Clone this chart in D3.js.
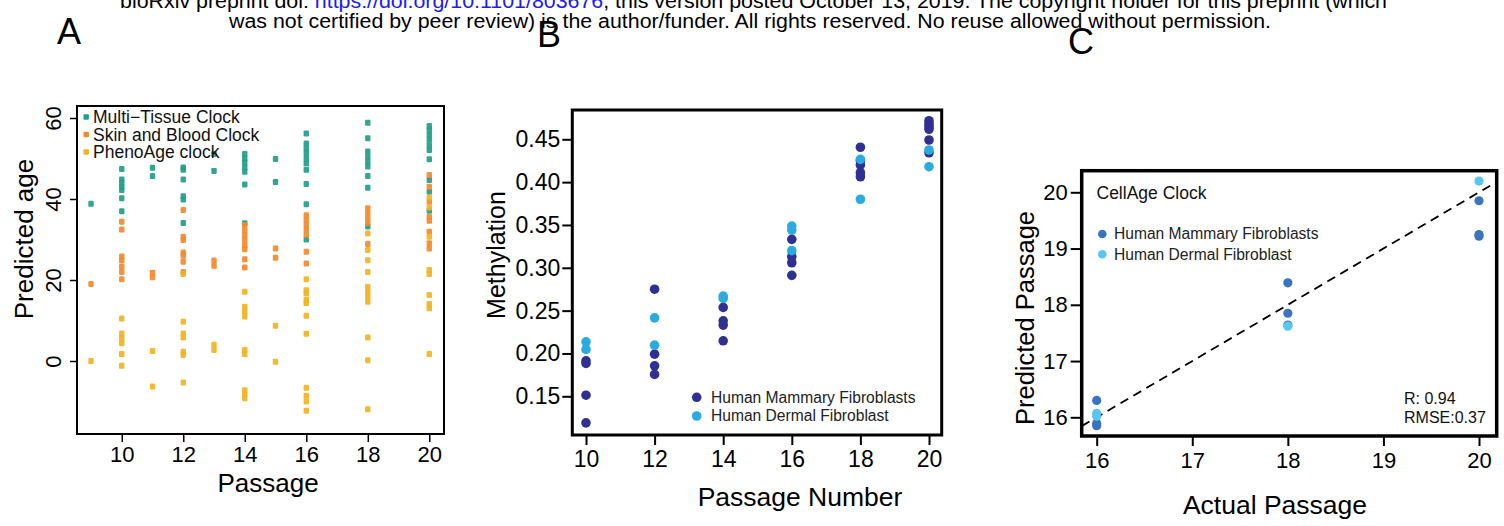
<!DOCTYPE html>
<html>
<head>
<meta charset="utf-8">
<script src="https://cdn.jsdelivr.net/npm/d3@7"></script>
<style>
  html, body { margin: 0; padding: 0; background: #fff; }
  svg { display: block; font-family: "Liberation Sans", Arial, Helvetica, sans-serif; }
</style>
</head>
<body>
<svg id="chart" width="1504" height="526"></svg>
<script>
// ---------------- DATA ----------------
// Panel A: predicted age by passage, per clock
const passagesA = [9, 10, 11, 12, 13, 14, 15, 16, 18, 20];
const multiTissue = [
  [38.8],
  [47.4, 44.8, 43.9, 43.0, 42.2, 40.2, 37.0],
  [47.7, 45.7],
  [47.8, 47.2, 44.8, 40.7, 39.9, 34.1],
  [51.1, 46.9],
  [51.1, 50.0, 49.0, 47.8, 46.7, 43.6, 34.0],
  [49.9, 44.2],
  [56.2, 53.7, 52.5, 51.3, 50.0, 48.8, 47.2, 43.7, 38.7, 30.0],
  [58.8, 55.0, 51.7, 50.4, 49.2, 48.0, 45.7, 42.8, 33.2],
  [58.0, 57.0, 55.8, 54.6, 53.3, 52.1, 49.8, 44.7, 41.8, 37.1]
];
const skinBlood = [
  [19.0],
  [34.4, 32.5, 25.8, 24.8, 23.3, 22.0, 20.2],
  [21.8, 20.7],
  [37.3, 30.7, 29.9, 26.8, 26.0, 24.5, 22.0],
  [24.8, 23.5],
  [33.6, 32.3, 31.1, 29.9, 28.6, 27.6, 25.1, 23.1],
  [27.8, 25.5],
  [36.0, 34.8, 33.6, 32.4, 31.2, 27.0, 24.1],
  [37.7, 36.5, 35.2, 34.1, 28.9],
  [45.9, 43.0, 39.3, 35.6, 34.6, 31.9, 29.1, 27.8]
];
const phenoAge = [
  [0.0],
  [10.5, 6.8, 5.6, 4.4, 1.7, -1.2],
  [2.5, -6.3],
  [21.5, 9.7, 6.8, 5.8, 2.3, 1.5, -5.3],
  [4.0, 2.7],
  [17.1, 13.4, 12.2, 11.0, 2.7, 1.7, -7.2, -8.2, -9.2],
  [8.7, -0.2],
  [20.2, 17.5, 16.7, 15.1, 14.3, 11.2, 6.7, -6.6, -8.6, -10.0, -12.3],
  [31.5, 27.4, 24.9, 22.0, 18.3, 17.1, 15.9, 14.6, 5.8, 0.2, -11.9],
  [40.4, 37.9, 30.7, 22.5, 21.5, 16.3, 14.1, 13.0, 1.7]
];
const clockNames = ["Multi\u2212Tissue Clock", "Skin and Blood Clock", "PhenoAge clock"];
const xTicksA = [10, 12, 14, 16, 18, 20];
const yTicksA = [0, 20, 40, 60];

// Panel B: methylation by passage number
const passagesB = [10, 12, 14, 16, 18, 20];
const methMammary = [
  [0.1914, 0.1884, 0.1513, 0.119],
  [0.275, 0.1992, 0.1856, 0.1755],
  [0.2538, 0.2381, 0.2331, 0.2148],
  [0.3332, 0.3129, 0.3059, 0.2912],
  [0.4407, 0.4200, 0.4110, 0.4063, 0.4250],
  [0.4717, 0.4679, 0.4647, 0.4617, 0.4492, 0.4343]
];
const methDermal = [
  [0.2136, 0.2047],
  [0.2416, 0.2097],
  [0.2670, 0.2643],
  [0.3487, 0.3440, 0.3200],
  [0.4266, 0.3800],
  [0.4375, 0.4180]
];
const cellNames = ["Human Mammary Fibroblasts", "Human Dermal Fibroblast"];
const yTicksB = [0.15, 0.20, 0.25, 0.30, 0.35, 0.40, 0.45];

// Panel C: CellAge clock, actual vs predicted passage
const actualMammary = [16, 16, 16, 18, 18, 18, 20, 20, 20];
const predMammary = [16.30, 15.89, 15.85, 18.39, 17.85, 17.64, 19.85, 19.25, 19.22];
const actualDermal = [16, 16, 18, 20];
const predDermal = [16.07, 16.02, 17.62, 20.20];
const cellNamesC = ["Human Mammary Fibroblasts", "Human Dermal Fibroblast"];
const ticksC = [16, 17, 18, 19, 20];
const statsC = ["R: 0.94", "RMSE:0.37"];

// ---------------- DRAW ----------------
const svg = d3.select("#chart");
const font = '"Liberation Sans", Arial, Helvetica, sans-serif';

// Header
const hdr = svg.append("g");
const t1 = hdr.append("text").attr("x", 120).attr("y", 8)
  .attr("font-size", 20).attr("fill", "#000")
  .attr("textLength", 1267).attr("lengthAdjust", "spacingAndGlyphs");
t1.append("tspan").text("bioRxiv preprint doi: ");
t1.append("tspan").attr("fill", "#1a1aff").text("https://doi.org/10.1101/803676");
t1.append("tspan").text(", this version posted October 13, 2019. The copyright holder for this preprint (which");
hdr.append("text").attr("x", 229).attr("y", 28)
  .attr("font-size", 20).attr("fill", "#000")
  .attr("textLength", 1042).attr("lengthAdjust", "spacingAndGlyphs")
  .text("was not certified by peer review) is the author/funder. All rights reserved. No reuse allowed without permission.");

// Panel letters
[["A", 57, 44], ["B", 537, 47], ["C", 1068, 54]].forEach(([l, x, y]) => {
  svg.append("text").attr("x", x).attr("y", y).attr("font-size", 36).attr("fill", "#000").text(l);
});

// ======== Panel A ========
{
  const L = 77, R = 444, T = 106, B = 434;
  const x = d3.scaleLinear().domain([9, 20]).range([91, 429.3]);
  const y = d3.scaleLinear().domain([0, 60]).range([361, 118]);
  const g = svg.append("g");
  const colors = ["#1fa08a", "#f5892a", "#f3b21f"];
  const series = [multiTissue, skinBlood, phenoAge];
  series.forEach((s, si) => {
    const pts = [];
    s.forEach((vals, i) => vals.forEach(v => pts.push([passagesA[i], v])));
    g.append("g").selectAll("rect").data(pts).join("rect")
      .attr("x", d => x(d[0]) - 2.7).attr("y", d => y(d[1]) - 3)
      .attr("width", 5.4).attr("height", 6).attr("rx", 1.2)
      .attr("fill", colors[si]).attr("fill-opacity", 0.92);
  });
  g.append("rect").attr("x", L).attr("y", T).attr("width", R - L).attr("height", B - T)
    .attr("fill", "none").attr("stroke", "#000").attr("stroke-width", 2);

  const xa = g.append("g").attr("transform", `translate(0,${B})`)
    .call(d3.axisBottom(x).tickValues(xTicksA).tickSize(8).tickPadding(4).tickFormat(d3.format("d")));
  xa.select(".domain").remove();
  xa.selectAll("line").attr("stroke", "#000").attr("stroke-width", 1.5);
  xa.selectAll("text").attr("font-size", 22).attr("font-family", font).attr("fill", "#000");

  const ya = g.append("g").attr("transform", `translate(${L},0)`)
    .call(d3.axisLeft(y).tickValues(yTicksA).tickSize(7).tickFormat(d3.format("d")));
  ya.select(".domain").remove();
  ya.selectAll("line").attr("stroke", "#000").attr("stroke-width", 1.5);
  ya.selectAll("text").attr("font-size", 22).attr("font-family", font).attr("fill", "#000")
    .attr("x", 0).attr("dy", 0).attr("text-anchor", "middle")
    .attr("transform", "translate(-16,0) rotate(-90)");

  g.append("text").attr("x", 268).attr("y", 492).attr("text-anchor", "middle")
    .attr("font-size", 26).attr("fill", "#000").text("Passage");
  g.append("text").attr("transform", "translate(33,239) rotate(-90)").attr("text-anchor", "middle")
    .attr("font-size", 26).attr("fill", "#000").text("Predicted age");

  // legend
  const lg = g.append("g");
  clockNames.forEach((n, i) => {
    const yy = 117 + i * 17.5;
    lg.append("rect").attr("x", 83.5).attr("y", yy - 2.7).attr("width", 5.4).attr("height", 5.4)
      .attr("rx", 1).attr("fill", colors[i]);
    lg.append("text").attr("x", 93).attr("y", yy + 6).attr("font-size", 17.5).attr("fill", "#111").text(n);
  });
}

// ======== Panel B ========
{
  const L = 572.3, R = 941.7, T = 110, B = 435;
  const x = d3.scaleLinear().domain([10, 20]).range([586, 929]);
  const y = d3.scaleLinear().domain([0.15, 0.45]).range([396.3, 139.3]);
  const g = svg.append("g");
  const cols = ["#2e3192", "#29abe2"];
  const groups = [methMammary, methDermal];
  groups.forEach((s, si) => {
    const pts = [];
    s.forEach((vals, i) => vals.forEach(v => pts.push([passagesB[i], v])));
    g.append("g").selectAll("circle").data(pts).join("circle")
      .attr("cx", d => x(d[0])).attr("cy", d => y(d[1])).attr("r", 4.8)
      .attr("fill", cols[si]);
  });
  g.append("rect").attr("x", L).attr("y", T).attr("width", R - L).attr("height", B - T)
    .attr("fill", "none").attr("stroke", "#000").attr("stroke-width", 3);

  const xa = g.append("g").attr("transform", `translate(0,${B})`)
    .call(d3.axisBottom(x).tickValues(passagesB).tickSize(10).tickPadding(6).tickFormat(d3.format("d")));
  xa.select(".domain").remove();
  xa.selectAll("line").attr("stroke", "#000").attr("stroke-width", 2);
  xa.selectAll("text").attr("font-size", 23).attr("font-family", font).attr("fill", "#000");

  const ya = g.append("g").attr("transform", `translate(${L},0)`)
    .call(d3.axisLeft(y).tickValues(yTicksB).tickSize(10).tickPadding(2).tickFormat(d3.format(".2f")));
  ya.select(".domain").remove();
  ya.selectAll("line").attr("stroke", "#000").attr("stroke-width", 2);
  ya.selectAll("text").attr("font-size", 23).attr("font-family", font).attr("fill", "#000");

  g.append("text").attr("x", 800).attr("y", 506).attr("text-anchor", "middle")
    .attr("font-size", 26.5).attr("fill", "#000").text("Passage Number");
  g.append("text").attr("transform", "translate(505,255) rotate(-90)").attr("text-anchor", "middle")
    .attr("font-size", 25).attr("fill", "#000").text("Methylation");

  cellNames.forEach((n, i) => {
    const yy = 397.3 + i * 18.7;
    g.append("circle").attr("cx", 696.7).attr("cy", yy).attr("r", 4.8).attr("fill", cols[i]);
    g.append("text").attr("x", 711).attr("y", yy + 5.4).attr("font-size", 15.6).attr("fill", "#222").text(n);
  });
}

// ======== Panel C ========
{
  const L = 1081.7, R = 1496.7, T = 170.7, B = 436;
  const x = d3.scaleLinear().domain([16, 20]).range([1096.7, 1479]);
  const y = d3.scaleLinear().domain([16, 20]).range([417.3, 192.3]);
  const g = svg.append("g");
  const cols = ["#3c73be", "#5ac6f3"];

  // identity dashed line, clipped to box
  g.append("clipPath").attr("id", "clipC").append("rect")
    .attr("x", L).attr("y", T).attr("width", R - L).attr("height", B - T);
  const dom = [x.invert(L), x.invert(R)];
  g.append("line").attr("clip-path", "url(#clipC)")
    .attr("x1", x(dom[0])).attr("y1", y(dom[0])).attr("x2", x(dom[1])).attr("y2", y(dom[1]))
    .attr("stroke", "#000").attr("stroke-width", 1.8).attr("stroke-dasharray", "9,6");

  const sets = [[actualMammary, predMammary], [actualDermal, predDermal]];
  sets.forEach(([ax, py], si) => {
    g.append("g").selectAll("circle").data(ax.map((a, i) => [a, py[i]])).join("circle")
      .attr("cx", d => x(d[0])).attr("cy", d => y(d[1])).attr("r", 4.6)
      .attr("fill", cols[si]);
  });

  g.append("rect").attr("x", L).attr("y", T).attr("width", R - L).attr("height", B - T)
    .attr("fill", "none").attr("stroke", "#000").attr("stroke-width", 3.5);

  const xa = g.append("g").attr("transform", `translate(0,${B})`)
    .call(d3.axisBottom(x).tickValues(ticksC).tickSize(10).tickPadding(6).tickFormat(d3.format("d")));
  xa.select(".domain").remove();
  xa.selectAll("line").attr("stroke", "#000").attr("stroke-width", 2);
  xa.selectAll("text").attr("font-size", 22).attr("font-family", font).attr("fill", "#000");

  const ya = g.append("g").attr("transform", `translate(${L},0)`)
    .call(d3.axisLeft(y).tickValues(ticksC).tickSize(11).tickPadding(3).tickFormat(d3.format("d")));
  ya.select(".domain").remove();
  ya.selectAll("line").attr("stroke", "#000").attr("stroke-width", 2);
  ya.selectAll("text").attr("font-size", 22).attr("font-family", font).attr("fill", "#000");

  g.append("text").attr("x", 1275).attr("y", 514).attr("text-anchor", "middle")
    .attr("font-size", 26.5).attr("fill", "#000").text("Actual Passage");
  g.append("text").attr("transform", "translate(1034,318) rotate(-90)").attr("text-anchor", "middle")
    .attr("font-size", 25.5).attr("fill", "#000").text("Predicted Passage");

  g.append("text").attr("x", 1096.5).attr("y", 199).attr("font-size", 17.5).attr("fill", "#111").text("CellAge Clock");
  cellNamesC.forEach((n, i) => {
    const yy = 234 + i * 20.3;
    g.append("circle").attr("cx", 1102.3).attr("cy", yy).attr("r", 4.3).attr("fill", cols[i]);
    g.append("text").attr("x", 1114).attr("y", yy + 5.4).attr("font-size", 15.6).attr("fill", "#222").text(n);
  });
  statsC.forEach((s, i) => {
    g.append("text").attr("x", 1404).attr("y", 404 + i * 18.7).attr("font-size", 16).attr("fill", "#111").text(s);
  });
}
</script>
</body>
</html>
